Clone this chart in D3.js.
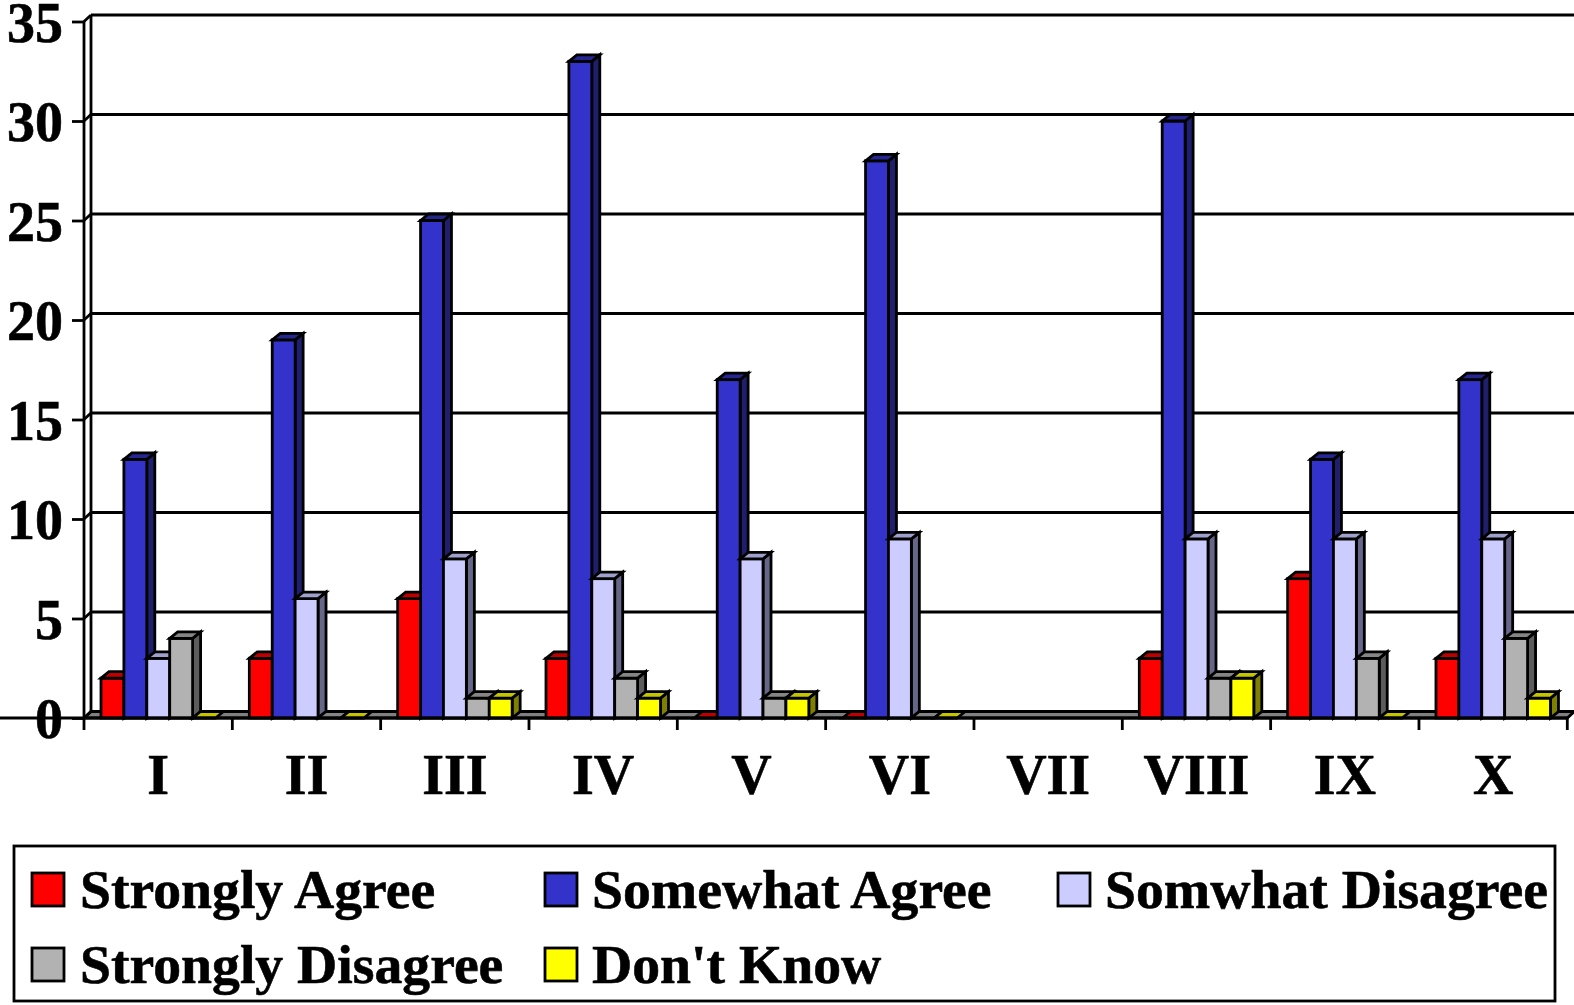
<!DOCTYPE html>
<html>
<head>
<meta charset="utf-8">
<script src="https://cdnjs.cloudflare.com/ajax/libs/d3/7.8.5/d3.min.js"></script>
<style>
  html, body { margin: 0; padding: 0; background: #fff; }
  svg { display: block; }
  text { font-family: "Liberation Serif", serif; font-weight: bold; fill: #000; stroke: #000; stroke-width: 0.6px; }
</style>
</head>
<body>
<svg id="chart" width="1574" height="1005"></svg>
<script>
/////////////////////////////////// DATA ///////////////////////////////////
const categories = ["I", "II", "III", "IV", "V", "VI", "VII", "VIII", "IX", "X"];
const seriesNames = ["Strongly Agree", "Somewhat Agree", "Somwhat Disagree", "Strongly Disagree", "Don't Know"];
const stronglyAgree = [2, 3, 6, 3, 0, 0, null, 3, 7, 3];
const somewhatAgree = [13, 19, 25, 33, 17, 28, null, 30, 13, 17];
const somwhatDisagree = [3, 6, 8, 7, 8, 9, null, 9, 9, 9];
const stronglyDisagree = [4, 0, 1, 2, 1, 0, null, 2, 3, 4];
const dontKnow = [0, 0, 1, 1, 1, 0, null, 2, 0, 1];
const allSeries = [stronglyAgree, somewhatAgree, somwhatDisagree, stronglyDisagree, dontKnow];
const yTicks = [0, 5, 10, 15, 20, 25, 30, 35];

// front, top, side
const fronts = ["#ff0000", "#3333cc", "#ccccff", "#b2b2b2", "#ffff00"];
const tops = ["#c00000", "#26268f", "#a0a0cc", "#858585", "#c4c400"];
const sides = ["#800000", "#1f1f6e", "#666688", "#5c5c5c", "#808000"];

/////////////////////////////////// LAYOUT ///////////////////////////////////
const x0 = 84, x1 = 1567.3, y0 = 718, y35 = 21.5;
const depthX = 7, depthY = 6.5;
const barDepthX = 8;
const line = 2.8;

const svg = d3.select("#chart");

const y = d3.scaleLinear().domain([0, 35]).range([y0, y35]);
const x = d3.scaleBand().domain(categories).range([x0, x1]);
const inner = d3.scaleBand().domain(d3.range(5)).range([17, 17 + 114.5]);

const poly = pts => pts.map(p => p.join(",")).join(" ");

/////////////////////////////////// WALLS ///////////////////////////////////
const walls = svg.append("g").attr("stroke", "#000").attr("stroke-width", line).attr("fill", "none");

// floor
walls.append("polygon")
  .attr("points", poly([[x0, y0], [x1, y0], [x1 + depthX, y0 - depthY], [x0 + depthX, y0 - depthY]]))
  .attr("fill", "#808080");

// back wall edge + side wall
walls.append("line").attr("x1", x0 + depthX).attr("x2", x0 + depthX)
  .attr("y1", y(35) - depthY).attr("y2", y0 - depthY);

// gridlines
yTicks.forEach(t => {
  if (t > 0) {
    walls.append("line").attr("x1", x0 + depthX).attr("x2", 1574)
      .attr("y1", y(t) - depthY).attr("y2", y(t) - depthY);
  }
  walls.append("line").attr("x1", x0).attr("x2", x0 + depthX)
    .attr("y1", y(t)).attr("y2", y(t) - depthY);
});

/////////////////////////////////// BARS ///////////////////////////////////
const bars = svg.append("g").attr("stroke", "#000").attr("stroke-width", line).attr("stroke-linejoin", "miter");

categories.forEach((c, i) => {
  allSeries.forEach((values, s) => {
    const v = values[i];
    if (v === null) return; // VII has no answers at all
    const l = x(c) + inner(s), r = l + inner.bandwidth(), t = y(v);
    const g = bars.append("g");
    if (v > 0) {
      g.append("polygon") // side
        .attr("points", poly([[r, t], [r + barDepthX, t - depthY], [r + barDepthX, y0 - depthY], [r, y0]]))
        .attr("fill", sides[s]);
      g.append("rect")
        .attr("x", l).attr("y", t).attr("width", r - l).attr("height", y0 - t)
        .attr("fill", fronts[s]);
    }
    g.append("polygon") // top
      .attr("points", poly([[l, t], [r, t], [r + barDepthX, t - depthY], [l + barDepthX, t - depthY]]))
      .attr("fill", tops[s]);
  });
});

/////////////////////////////////// AXES ///////////////////////////////////
const yAxis = svg.append("g")
  .attr("transform", `translate(${x0},0)`)
  .call(d3.axisLeft(y).tickValues(yTicks).tickSize(12).tickPadding(9));
yAxis.selectAll("text").style("font-size", "56px").attr("dy", "0.35em");

const xAxis = svg.append("g")
  .attr("transform", `translate(0,${y0})`)
  .call(d3.axisBottom(x).tickSize(0).tickPadding(36));
xAxis.selectAll("text").style("font-size", "56px").attr("dy", "0.71em");

// ticks between the categories
xAxis.selectAll(".edge")
  .data(d3.range(categories.length + 1))
  .enter().append("line")
  .attr("class", "edge")
  .attr("x1", d => x0 + d * x.step()).attr("x2", d => x0 + d * x.step())
  .attr("y1", 0).attr("y2", 12);

svg.selectAll(".domain").remove();
svg.selectAll(".tick line, .edge").attr("stroke", "#000").attr("stroke-width", line);
yAxis.append("path")
  .attr("d", `M0,${y(35)}V${y0}`).attr("stroke", "#000").attr("stroke-width", line).attr("fill", "none");
xAxis.append("path")
  .attr("d", `M0,0H${x1}`).attr("stroke", "#000").attr("stroke-width", line).attr("fill", "none");

/////////////////////////////////// LEGENDE ///////////////////////////////////
const legend = svg.append("g");
legend.append("rect")
  .attr("x", 14).attr("y", 846).attr("width", 1541).attr("height", 155)
  .attr("fill", "#fff").attr("stroke", "#000").attr("stroke-width", line);

const swatchX = [32, 545, 1058];
const labelX = [80, 592, 1105];
const legendY = [873, 948];

seriesNames.forEach((name, s) => {
  const col = s % 3, ly = legendY[Math.floor(s / 3)];
  legend.append("rect")
    .attr("x", swatchX[col]).attr("y", ly).attr("width", 32).attr("height", 33)
    .attr("fill", fronts[s]).attr("stroke", "#000").attr("stroke-width", line);
  legend.append("text")
    .attr("x", labelX[col]).attr("y", ly + 35)
    .style("font-size", "55.7px")
    .text(name);
});
</script>
</body>
</html>
